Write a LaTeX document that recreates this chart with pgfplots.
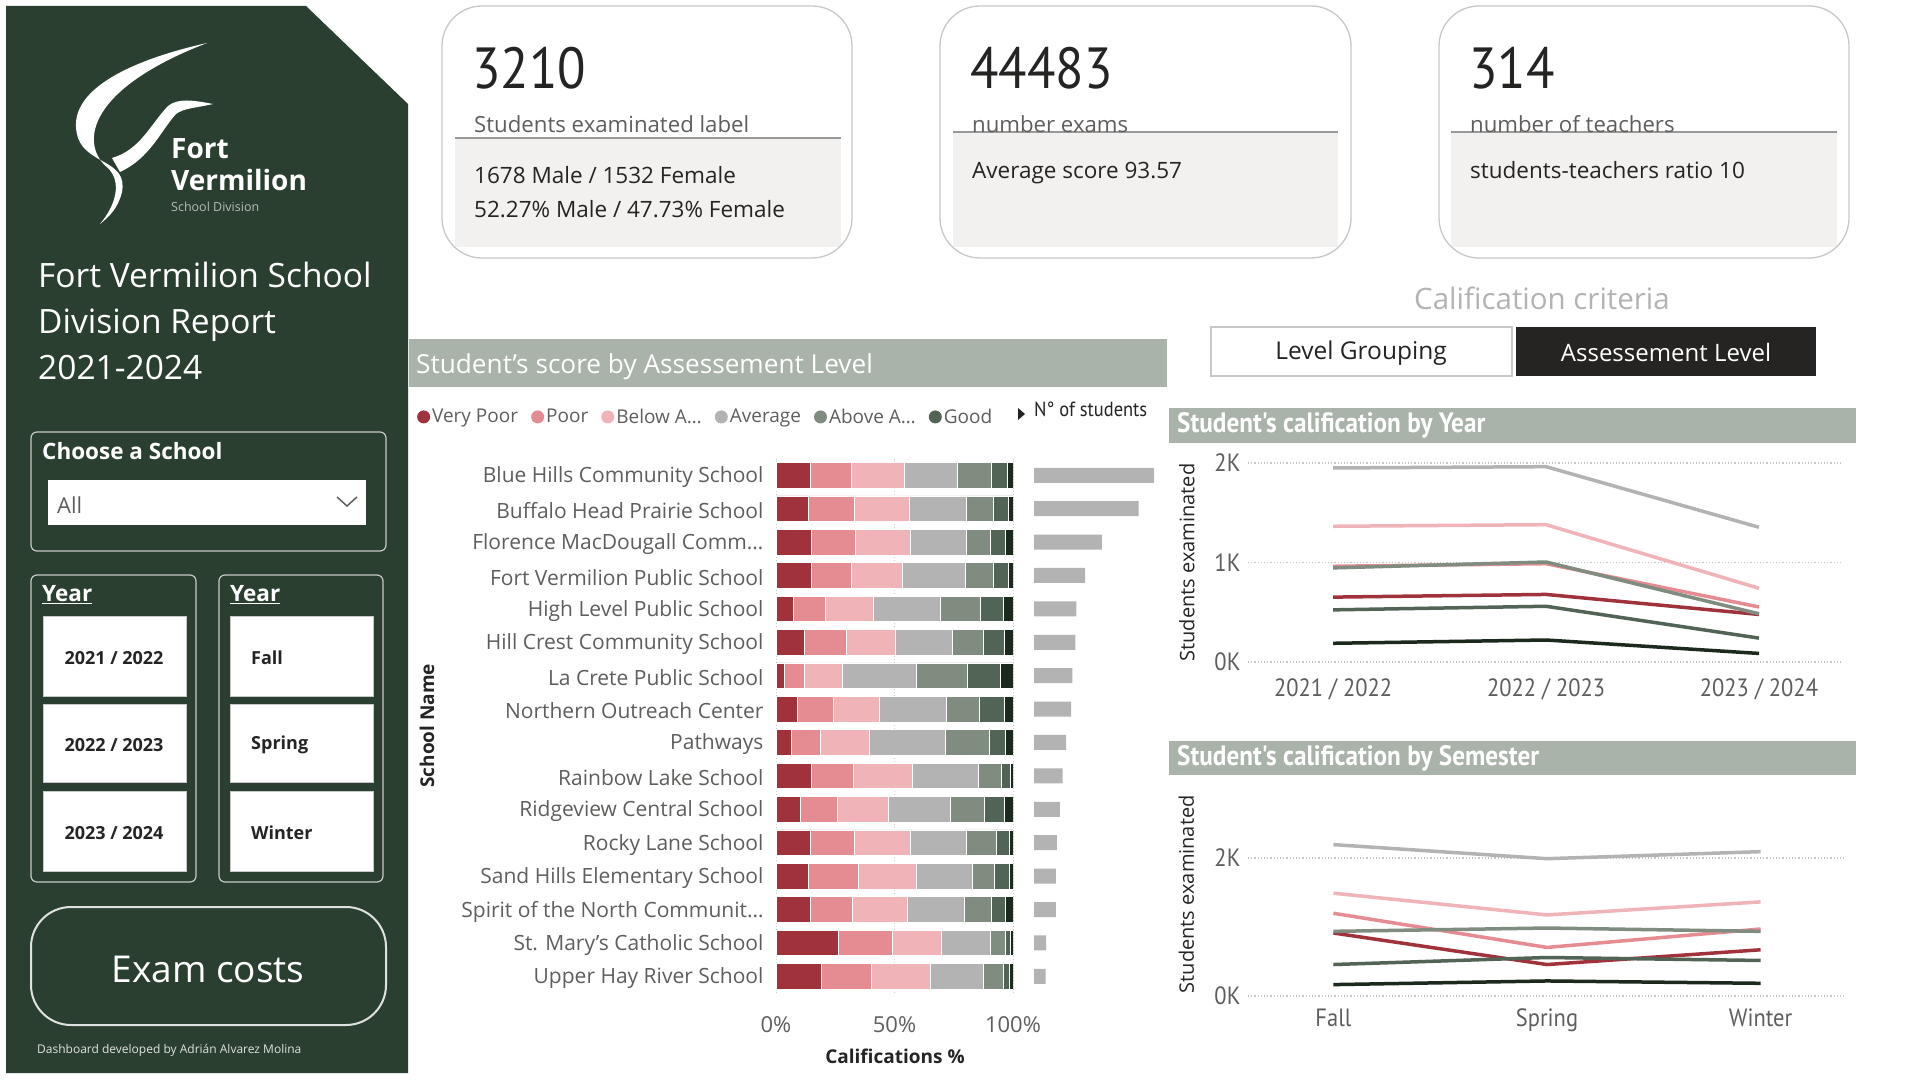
\documentclass[border=0pt]{standalone}
\usepackage{fontspec}
\setmainfont{Open Sans}
\newfontfamily\din{PT Sans}[FakeStretch=0.9]
\usepackage{pgfplots}
\usepackage{pgfplotstable}
\pgfplotsset{compat=1.18}
\newcommand\fs[1]{\fontsize{#1}{#1}\selectfont}
\definecolor{panel}{HTML}{2B3F30}
\definecolor{hdr}{HTML}{A9B3AA}
\definecolor{txt}{HTML}{252423}
\definecolor{sub}{HTML}{605E5C}
\definecolor{cVP}{HTML}{A0323C}
\definecolor{cP}{HTML}{E58C92}
\definecolor{cBA}{HTML}{F0B4B8}
\definecolor{cAV}{HTML}{B3B3B3}
\definecolor{cAA}{HTML}{7F8C7F}
\definecolor{cG}{HTML}{526455}
\definecolor{cE}{HTML}{1C2A1E}
\definecolor{cardgray}{HTML}{F2F1F0}
\definecolor{boxline}{HTML}{C8C8C8}

\pgfplotstableread{
y VP P BA AV AA G E N
15 14.3 17.5 22.5 22.3 14.2 6.7 2.5 567
14 13.7 19.3 23.1 24.2 11.3 6.6 1.8 494
13 15.0 18.4 23.2 23.5 10.3 6.5 3.1 321
12 15.0 16.8 21.5 26.6 11.7 6.3 2.1 241
11 7.4 13.5 20.3 28.3 16.8 9.6 4.1 200
10 11.9 17.8 20.5 24.0 13.3 9.0 3.5 195
9 3.7 8.2 16.2 31.1 21.5 13.8 5.5 181
8 9.0 15.2 19.4 28.3 13.8 10.8 3.5 175
7 6.6 12.0 20.9 32.0 18.3 7.1 3.1 152
6 15.0 17.6 24.8 27.8 9.9 3.9 1.0 135
5 10.2 15.6 21.7 26.1 14.3 8.6 3.5 122
4 14.3 18.9 23.6 23.5 12.7 5.4 1.6 108
3 13.7 20.9 24.6 23.8 9.2 6.4 1.4 103
2 14.3 18.1 23.1 23.8 11.7 5.9 3.1 103
1 26.4 22.8 20.5 20.9 6.3 2.1 1.0 57
0 19.3 20.9 25.0 22.1 8.6 2.7 1.4 55
}\schooldata

\pgfplotstableread{
x VP P BA AV AA G E
0 652 962 1364 1950 946 524 188
1 679 988 1380 1963 1005 560 221
2 478 553 741 1354 484 240 86
}\yeardata

\pgfplotstableread{
x VP P BA AV AA G E
0 913 1199 1490 2194 937 456 165
1 456 704 1175 1990 985 558 218
2 670 971 1364 2092 937 515 184
}\semdata

\pgfplotsset{
  linechart/.style={
    scale only axis, anchor=south west, clip=false,
    axis line style={draw=none}, major tick length=0pt,
    xtick={0,1,2}, ymin=0,
    ymajorgrids, grid style={line width=1.2pt, dotted, gray!45},
    ticklabel style={font=\din\fs{25}, text=sub},
    yticklabel style={xshift=-4pt},
    every axis plot/.append style={line width=3.5pt, line join=round},
    ylabel={Students examinated},
    ylabel style={font=\fs{20}, text=txt, anchor=center},
    /pgf/number format/assume math mode=true,
  }
}

\begin{document}
\begin{tikzpicture}[x=1pt,y=1pt]
\path[use as bounding box, fill=white] (0,0) rectangle (1920,1080);
\begin{scope}[yshift=1080pt, y=-1pt]
% ---------- left panel
\fill[panel] (6,6) -- (306,6) -- (408,104) -- (408,1073) -- (6,1073) -- cycle;
% logo swoosh
\fill[white] (207,43) .. controls (140,58) and (62,88) .. (78,138)
   .. controls (88,165) and (128,160) .. (122,192)
   .. controls (118,208) and (110,216) .. (100,224)
   .. controls (116,205) and (122,182) .. (108,168)
   .. controls (82,148) and (80,92) .. (207,43) -- cycle;
\fill[white] (112,158) .. controls (140,150) and (150,125) .. (168,106)
   .. controls (178,98) and (192,100) .. (213,104)
   .. controls (196,108) and (184,108) .. (176,114)
   .. controls (160,132) and (150,158) .. (120,172) -- cycle;
\node[anchor=base west, inner sep=0, text=white, font=\bfseries\fs{28}] at (171,159) {Fort};
\node[anchor=base west, inner sep=0, text=white, font=\bfseries\fs{28}] at (171,191) {Vermilion};
\node[anchor=base west, inner sep=0, text=white!65!panel, font=\fs{12.5}] at (171,212) {School Division};
% title
\node[anchor=base west, inner sep=0, text=white, font=\fs{33.5}] at (38,288) {Fort Vermilion School};
\node[anchor=base west, inner sep=0, text=white, font=\fs{33.5}] at (38,334) {Division Report};
\node[anchor=base west, inner sep=0, text=white, font=\fs{33.5}] at (38,380) {2021-2024};
% choose a school
\draw[boxline, line width=1.2pt, rounded corners=6pt] (31,432) rectangle (386,551);
\node[anchor=base west, inner sep=0, text=white, font=\bfseries\fs{22.5}] at (42,460) {Choose a School};
\fill[white] (48,480) rectangle (366,525);
\node[anchor=base west, inner sep=0, text=sub, font=\fs{22}] at (57,514) {All};
\draw[sub, line width=1.5pt] (337,497) -- (347,506) -- (357,497);
% year boxes
\draw[boxline, line width=1.2pt, rounded corners=6pt] (31,575) rectangle (196,882);
\draw[boxline, line width=1.2pt, rounded corners=6pt] (219,575) rectangle (383,882);
\node[anchor=base west, inner sep=0, text=white, font=\bfseries\fs{22.5}] at (42,602) {\underline{Year}};
\node[anchor=base west, inner sep=0, text=white, font=\bfseries\fs{22.5}] at (230,602) {\underline{Year}};
\foreach \ya/\yb/\la/\lb in {616/696/{2021 / 2022}/Fall, 704/782/{2022 / 2023}/Spring, 791/871/{2023 / 2024}/Winter}{
  \fill[white, draw=boxline] (43,\ya) rectangle (186,\yb);
  \fill[white, draw=boxline] (230,\ya) rectangle (373,\yb);
  \node[text=txt, font=\bfseries\fs{18}] at (114,{(\ya+\yb)/2+2}) {\la};
  \node[anchor=west, inner sep=0, text=txt, font=\bfseries\fs{18}] at (251,{(\ya+\yb)/2+2}) {\lb};
}
% exam costs
\draw[white!85!panel, line width=2pt, rounded corners=40pt] (31,907) rectangle (386,1025);
\node[text=white, font=\fs{37}] at (208,969) {Exam costs};
\node[anchor=base west, inner sep=0, text=white!85!panel, font=\fs{12}] at (37,1053) {Dashboard developed by Adrián Alvarez Molina};

% ---------- KPI cards
\foreach \xa/\xb in {442/852, 940/1351, 1439/1849}{
  \fill[white] (\xa,6) [rounded corners=40pt] rectangle (\xb,258);
}
\fill[cardgray] (455,138) rectangle (841,247);
\draw[gray!80, line width=2pt] (455,138) -- (841,138);
\fill[cardgray] (953,132) rectangle (1338,247);
\draw[gray!80, line width=2pt] (953,132) -- (1338,132);
\fill[cardgray] (1451,132) rectangle (1837,247);
\draw[gray!80, line width=2pt] (1451,132) -- (1837,132);
\foreach \xa/\xb in {442/852, 940/1351, 1439/1849}{
  \draw[boxline, line width=1.3pt, rounded corners=40pt] (\xa,6) rectangle (\xb,258);
}
\node[anchor=base west, inner sep=0, text=txt, font=\din\fs{58}] at (472,89) {3210};
\node[anchor=base west, inner sep=0, text=txt, font=\din\fs{58}] at (970,89) {44483};
\node[anchor=base west, inner sep=0, text=txt, font=\din\fs{58}] at (1469,89) {314};
\node[anchor=base west, inner sep=0, text=sub, font=\fs{22.2}] at (474,133) {Students examinated label};
\node[anchor=base west, inner sep=0, text=sub, font=\fs{22.2}] at (972,133) {number exams};
\node[anchor=base west, inner sep=0, text=sub, font=\fs{22.2}] at (1470,133) {number of teachers};
\node[anchor=base west, inner sep=0, text=txt, font=\fs{22.5}] at (474,184) {1678 Male / 1532 Female};
\node[anchor=base west, inner sep=0, text=txt, font=\fs{22.5}] at (474,218) {52.27\% Male / 47.73\% Female};
\node[anchor=base west, inner sep=0, text=txt, font=\fs{22.5}] at (972,179) {Average score 93.57};
\node[anchor=base west, inner sep=0, text=txt, font=\fs{22.5}] at (1470,179) {students-teachers ratio 10};

% ---------- calification criteria
\node[text=cAV, font=\fs{29.5}] at (1542,298) {Calification criteria};
\fill[white, draw=boxline, line width=1.2pt] (1211,327) rectangle (1512,376);
\node[text=txt, font=\fs{24.5}] at (1361,353) {Level Grouping};
\fill[txt] (1516,327) rectangle (1816,376);
\node[text=white, font=\fs{24}] at (1666,353) {Assessement Level};

% ---------- section headers
\fill[hdr] (409,339) rectangle (1167,387);
\node[anchor=west, inner sep=0, text=white, font=\fs{26.2}] at (416,367) {Student's score by Assessement Level};
\fill[hdr] (1169,408) rectangle (1856,443);
\node[anchor=west, inner sep=0, text=white, font=\din\bfseries\fs{28}] at (1177,425) {Student's calification by Year};
\fill[hdr] (1169,741) rectangle (1856,775);
\node[anchor=west, inner sep=0, text=white, font=\din\bfseries\fs{28}] at (1177,758) {Student's calification by Semester};
% N of students header
\fill[txt] (1018,408) -- (1025,414) -- (1018,420) -- cycle;
\node[anchor=west, inner sep=0, text=txt, font=\din\fs{20.5}] at (1034,409) {N° of students};
\end{scope}

% ---------- stacked bar chart
\begin{axis}[at={(776pt,87pt)}, anchor=south west, scale only axis,
  width=237pt, height=534.4pt,
  xbar stacked, bar width=25.7pt,
  xmin=0, xmax=100, ymin=-0.5, ymax=15.5, enlargelimits=false,
  axis line style={draw=none}, major tick length=0pt,
  xtick={0,50,100}, xticklabels={0\%,50\%,100\%},
  ytick={0,...,15},
  yticklabels={Upper Hay River School, St. Mary’s Catholic School, Spirit of the North Communit…, Sand Hills Elementary School, Rocky Lane School, Ridgeview Central School, Rainbow Lake School, Pathways, Northern Outreach Center, La Crete Public School, Hill Crest Community School, High Level Public School, Fort Vermilion Public School, Florence MacDougall Comm…, Buffalo Head Prairie School, Blue Hills Community School},
  ticklabel style={font=\fs{21}, text=sub},
  yticklabel style={xshift=-9pt, yshift=-2pt},
  xticklabel style={yshift=-20pt, font=\fs{22}},
  xmajorgrids, grid style={line width=1pt, dotted, gray!40},
  ylabel={School Name}, ylabel style={at={(axis description cs:-1.473,0.5)}, anchor=center, font=\bfseries\fs{19}, text=txt},
  xlabel={Califications \%}, xlabel style={at={(axis description cs:0.502,-0.118)}, anchor=center, font=\bfseries\fs{19}, text=txt},
  legend style={at={(axis description cs:-1.515,1.078)}, anchor=west, draw=none, fill=none,
     legend columns=-1, font=\fs{19}, text=sub,
     /tikz/every even column/.append style={column sep=11pt},
     inner sep=0pt, cells={anchor=west}},
  legend image code/.code={\fill[#1, draw=none] (4pt,0pt) circle (6.5pt);},
  every axis plot/.append style={draw=white, line width=0.6pt},
  /pgf/number format/assume math mode=true,
]
\addplot[fill=cVP] table[x=VP, y=y] {\schooldata};
\addplot[fill=cP] table[x=P, y=y] {\schooldata};
\addplot[fill=cBA] table[x=BA, y=y] {\schooldata};
\addplot[fill=cAV] table[x=AV, y=y] {\schooldata};
\addplot[fill=cAA] table[x=AA, y=y] {\schooldata};
\addplot[fill=cG] table[x=G, y=y] {\schooldata};
\addplot[fill=cE] table[x=E, y=y] {\schooldata};
\legend{Very Poor, Poor, Below A…, Average, Above A…, Good}
\end{axis}

% ---------- N of students bars
\begin{axis}[at={(1034pt,87pt)}, anchor=south west, scale only axis,
  width=127pt, height=534.4pt, hide axis,
  xbar, bar width=15pt,
  xmin=0, xmax=600, ymin=-0.5, ymax=15.5, enlargelimits=false]
\addplot[fill=cAV, draw=none] table[x=N, y=y] {\schooldata};
\end{axis}

% ---------- line chart by year
\begin{axis}[linechart, at={(1248pt,418pt)}, width=594pt, height=199pt,
  xmin=-0.40, xmax=2.39, ymax=2000,
  xticklabels={2021 / 2022, 2022 / 2023, 2023 / 2024},
  xticklabel style={yshift=-13pt},
  ytick={0,1000,2000}, yticklabels={0K,1K,2K},
  ylabel style={at={(axis description cs:-0.103,0.5)}},
]
\addplot[cVP] table[x=x, y=VP] {\yeardata};
\addplot[cP] table[x=x, y=P] {\yeardata};
\addplot[cBA] table[x=x, y=BA] {\yeardata};
\addplot[cAV] table[x=x, y=AV] {\yeardata};
\addplot[cAA] table[x=x, y=AA] {\yeardata};
\addplot[cG] table[x=x, y=G] {\yeardata};
\addplot[cE] table[x=x, y=E] {\yeardata};
\end{axis}

% ---------- line chart by semester
\begin{axis}[linechart, at={(1248pt,84pt)}, width=598pt, height=151.8pt,
  xmin=-0.40, xmax=2.40, ymax=2200,
  xticklabels={Fall, Spring, Winter},
  xticklabel style={yshift=-9pt},
  ytick={0,2000}, yticklabels={0K,2K},
  ylabel style={at={(axis description cs:-0.103,0.67)}},
]
\addplot[cVP] table[x=x, y=VP] {\semdata};
\addplot[cP] table[x=x, y=P] {\semdata};
\addplot[cBA] table[x=x, y=BA] {\semdata};
\addplot[cAV] table[x=x, y=AV] {\semdata};
\addplot[cAA] table[x=x, y=AA] {\semdata};
\addplot[cG] table[x=x, y=G] {\semdata};
\addplot[cE] table[x=x, y=E] {\semdata};
\end{axis}
\end{tikzpicture}
\end{document}
